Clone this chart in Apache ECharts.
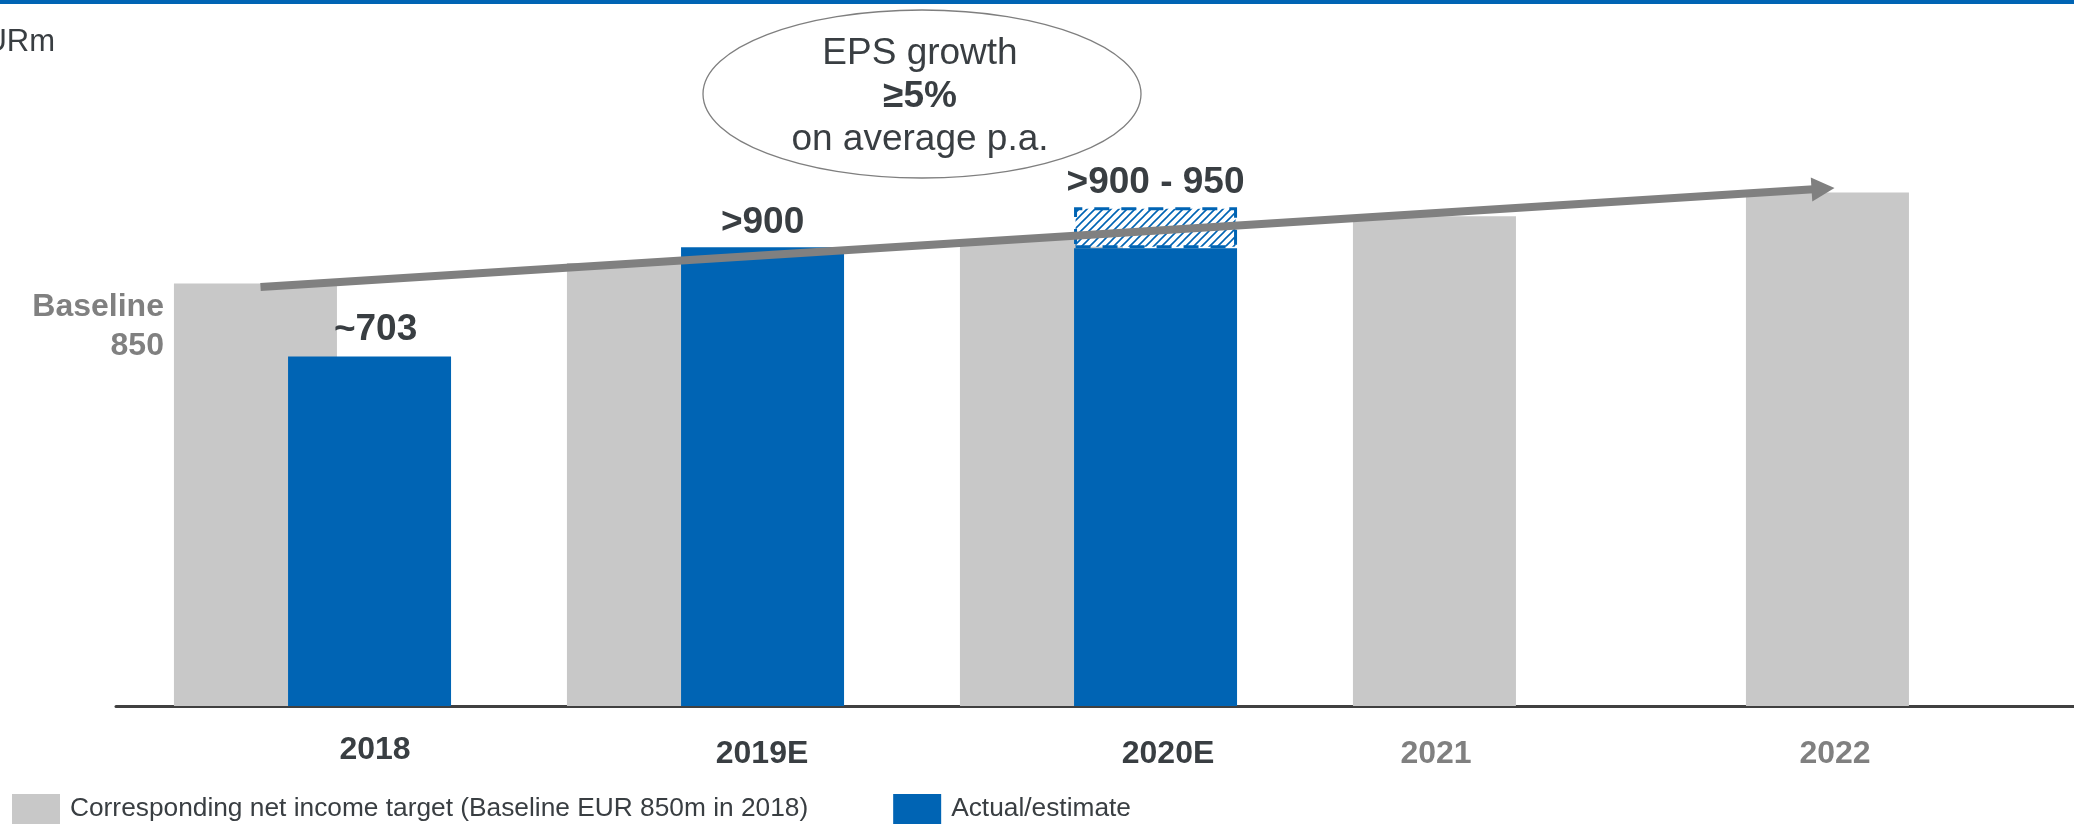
<!DOCTYPE html>
<html>
<head>
<meta charset="utf-8">
<script src="https://cdn.jsdelivr.net/npm/echarts@6/dist/echarts.min.js"></script>
<style>
html,body{margin:0;padding:0;background:#fff;}
#chart{width:2074px;height:829px;}
</style>
</head>
<body>
<div id="chart"></div>
<script>
// ---- data ----
const categories = ['2018', '2019E', '2020E', '2021', '2022'];
const targetValues = [850, 891, 939, 985, 1033];      // grey: net income target path
const actualValues = [703, 923, 921, null, null];     // blue: actual / estimate
const rangeValues  = [null, null, 82, null, null];    // hatched range on top of 2020E
const actualLabels = ['~703', '>900', '', '', ''];
const rangeLabels  = ['', '', '>900 - 950', '', ''];
const baselineLabel = 'Baseline\n850';
const arrowFrom = 843;   // value at arrow start (2018)
const arrowTo = 1042;    // value at arrow tip (2022)
const seriesNames = ['Corresponding net income target (Baseline EUR 850m in 2018)', 'Actual/estimate'];
const unitLabel = 'EURm';

// ---- styles ----
const FONT = '"Liberation Sans", Arial, Helvetica, sans-serif';
const BLUE = '#0064b4';
const GREY = '#c8c8c8';
const DARK = '#393e42';
const MID = '#808080';
const labelStyle = [
  {pad: [0, 0, 0, 125], color: DARK},
  {pad: [4, 0, 0, 113], color: DARK},
  {pad: [4, 0, 0, 139], color: DARK},
  {pad: [4, 111, 0, 0], color: MID},
  {pad: [4, 99, 0, 0], color: MID}
];

// hatch pattern
const P = 8;
const pc = document.createElement('canvas');
pc.width = P; pc.height = P;
const ctx = pc.getContext('2d');
ctx.fillStyle = '#ffffff';
ctx.fillRect(0, 0, P, P);
ctx.strokeStyle = BLUE;
ctx.lineWidth = 1.6;
ctx.beginPath();
ctx.moveTo(0, P); ctx.lineTo(P, 0);
ctx.moveTo(-1, 1); ctx.lineTo(1, -1);
ctx.moveTo(P - 1, P + 1); ctx.lineTo(P + 1, P - 1);
ctx.stroke();

const chart = echarts.init(document.getElementById('chart'), null, {renderer: 'canvas'});

const rich = {};
labelStyle.forEach((s, i) => {
  rich['l' + i] = {padding: s.pad, color: s.color, fontSize: 32, fontWeight: 'bold', fontFamily: FONT};
});

const option = {
  animation: false,
  textStyle: {fontFamily: FONT},
  grid: {left: 116, right: -7, top: 10, bottom: 123, outerBoundsMode: 'none', containLabel: false},
  legend: {
    left: 12, bottom: 5, padding: 0,
    itemWidth: 48, itemHeight: 30, itemGap: 85,
    icon: 'rect',
    data: seriesNames,
    textStyle: {fontSize: 26.3, color: DARK, fontFamily: FONT, padding: [0, 0, 0, 5]},
    selectedMode: false
  },
  xAxis: {
    type: 'category',
    data: categories,
    axisLine: {lineStyle: {color: '#404040', width: 3}},
    axisTick: {show: false},
    axisLabel: {
      margin: 28,
      formatter: (v, i) => '{l' + i + '|' + v + '}',
      rich: rich
    }
  },
  yAxis: {type: 'value', min: 0, max: 1400, show: false, splitLine: {show: false}},
  series: [
    {
      name: seriesNames[0], type: 'bar', stack: 'target',
      barWidth: 163, barGap: '-30%',
      itemStyle: {color: GREY},
      data: targetValues.map((v, i) => i === 0 ? {
        value: v,
        label: {
          show: true, position: [-10, 4], align: 'right', verticalAlign: 'top',
          formatter: baselineLabel, fontSize: 32, fontWeight: 'bold', color: MID,
          lineHeight: 39, fontFamily: FONT
        }
      } : v)
    },
    {
      name: seriesNames[1], type: 'bar', stack: 'actual',
      barWidth: 163, barGap: '-30%',
      itemStyle: {color: BLUE},
      label: {show: true, position: 'top', distance: 6, fontSize: 37, fontWeight: 'bold', color: DARK, fontFamily: FONT,
        formatter: p => actualLabels[p.dataIndex]},
      data: actualValues.map((v, i) => i === 0 ? {value: v, label: {distance: 8, offset: [6, 0]}} : v)
    },
    {
      name: 'range', type: 'bar', stack: 'actual',
      barWidth: 163, barGap: '-30%',
      itemStyle: {color: {image: pc, repeat: 'repeat'}, borderColor: BLUE, borderWidth: 3, borderType: [15, 12]},
      label: {show: true, position: 'top', distance: 6, fontSize: 37, fontWeight: 'bold', color: DARK, fontFamily: FONT,
        formatter: p => rangeLabels[p.dataIndex]},
      data: rangeValues
    }
  ]
};
chart.setOption(option);

// annotation graphics derived from the axes
const x0 = chart.convertToPixel({xAxisIndex: 0}, 0);
const x4 = chart.convertToPixel({xAxisIndex: 0}, 4);
const y0 = chart.convertToPixel({yAxisIndex: 0}, arrowFrom);
const y1 = chart.convertToPixel({yAxisIndex: 0}, arrowTo);
const sx = x0 - 52, sy = y0;
const tx = x4 - 50, ty = y1;
const len = Math.hypot(tx - sx, ty - sy);
const dx = (tx - sx) / len, dy = (ty - sy) / len;
const nx = -dy, ny = dx;
const headL = 23, headW = 12;
const bx = tx - dx * headL, by = ty - dy * headL;

chart.setOption({
  graphic: [
    {type: 'rect', left: 0, top: 0, shape: {x: 0, y: 0, width: 2074, height: 4}, style: {fill: BLUE}, z: 10},
    {type: 'text', x: 55, y: 42, style: {text: unitLabel, fontSize: 31, fill: DARK, fontFamily: FONT, align: 'right', verticalAlign: 'middle'}},
    {type: 'ellipse', shape: {cx: 922, cy: 94, rx: 219, ry: 84}, style: {fill: '#ffffff', stroke: '#7f7f7f', lineWidth: 1.3}, z: 5},
    {type: 'text', x: 920, y: 97, z: 6, style: {
      text: '{n|EPS growth}\n{b|≥5%}\n{n|on average p.a.}',
      align: 'center', verticalAlign: 'middle',
      rich: {
        n: {fontSize: 37, fill: DARK, fontFamily: FONT, lineHeight: 43},
        b: {fontSize: 37, fontWeight: 'bold', fill: DARK, fontFamily: FONT, lineHeight: 43}
      }
    }},
    {type: 'line', z: 20, shape: {x1: sx, y1: sy, x2: bx + dx * 2, y2: by + dy * 2}, style: {stroke: '#808080', lineWidth: 8}},
    {type: 'polygon', z: 20, shape: {points: [[tx, ty], [bx + nx * headW, by + ny * headW], [bx - nx * headW, by - ny * headW]]}, style: {fill: '#808080'}}
  ]
});
</script>
</body>
</html>
